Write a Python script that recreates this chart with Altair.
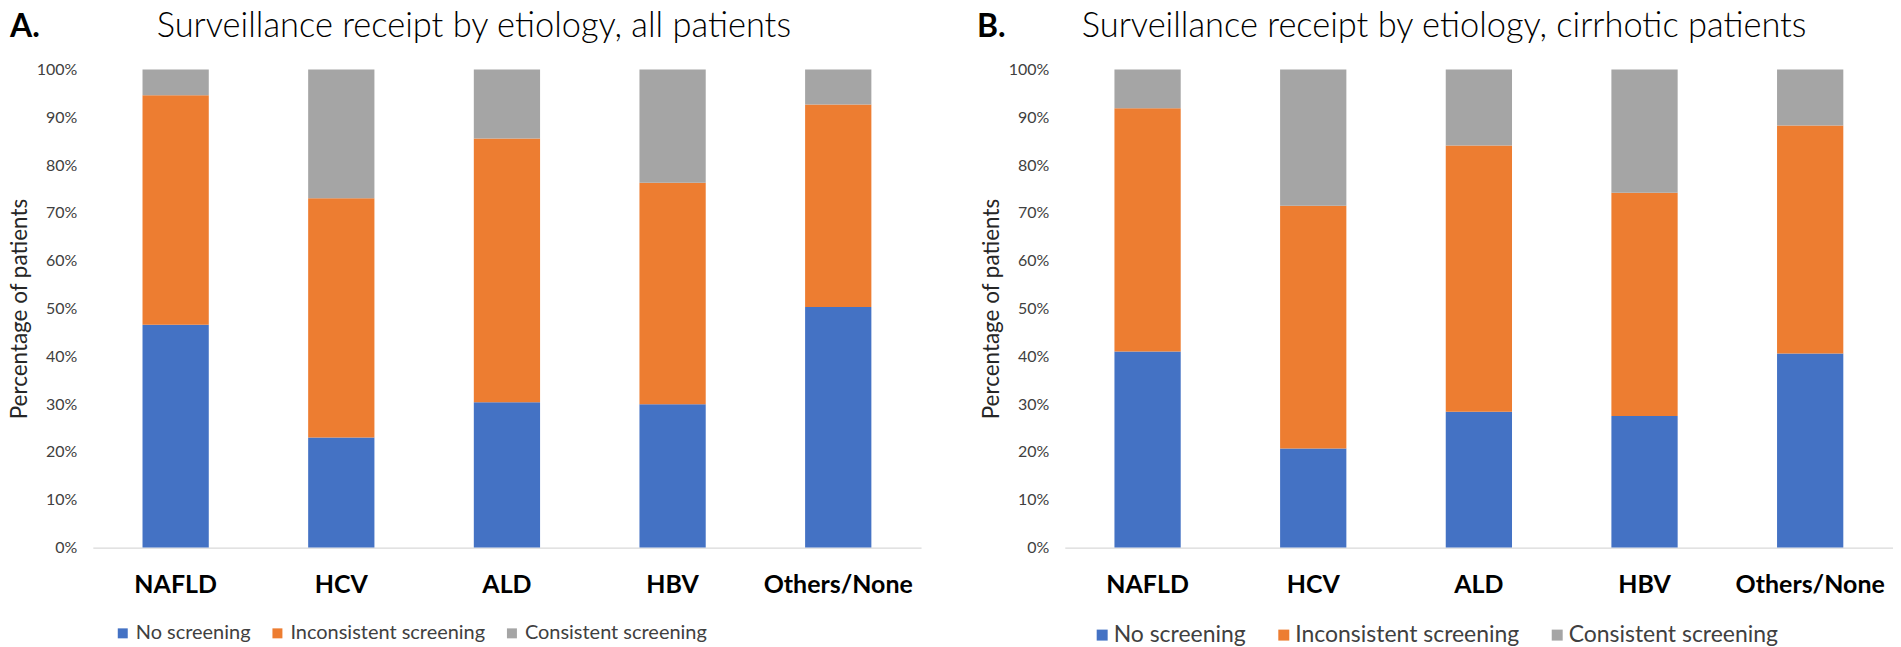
import altair as alt
import pandas as pd

categories = ["NAFLD", "HCV", "ALD", "HBV", "Others/None"]
statuses = ["No screening", "Inconsistent screening", "Consistent screening"]
colors = ["#4472C4", "#ED7D31", "#A5A5A5"]

# Panel A: all patients (percent of patients)
all_no = [46.6, 23.0, 30.4, 30.0, 50.3]
all_inconsistent = [48.0, 50.1, 55.2, 46.3, 42.4]
all_consistent = [5.4, 26.9, 14.4, 23.7, 7.3]

# Panel B: cirrhotic patients (percent of patients)
cir_no = [41.0, 20.7, 28.4, 27.5, 40.6]
cir_inconsistent = [50.9, 50.8, 55.7, 46.7, 47.7]
cir_consistent = [8.1, 28.5, 15.9, 25.8, 11.7]

title_a = "Surveillance receipt by etiology, all patients"
title_b = "Surveillance receipt by etiology, cirrhotic patients"
y_title = "Percentage of patients"
y_ticks = [0, 10, 20, 30, 40, 50, 60, 70, 80, 90, 100]

FONT = "Lato"
PLOT_H = 479


def long_table(no, inc, con):
    rows = []
    for series_idx, (name, vals) in enumerate(zip(statuses, [no, inc, con])):
        for cat, v in zip(categories, vals):
            rows.append({"etiology": cat, "status": name, "idx": series_idx, "pct": v})
    return pd.DataFrame(rows)


def panel(df, title, letter, letter_x, title_x, legend_x, legend_font, legend_sym, legend_gap, legend_off):
    bars = alt.Chart(df).mark_bar().encode(
        x=alt.X(
            "etiology:N",
            sort=categories,
            scale=alt.Scale(paddingInner=0.6, paddingOuter=0.3),
            axis=alt.Axis(
                title=None,
                labelAngle=0,
                labelFont=FONT,
                labelFontWeight="bold",
                labelFontSize=25,
                labelColor="#000000",
                labelPadding=25,
                ticks=False,
                domainColor="#d9d9d9",
                domainWidth=1.3,
                grid=False,
            ),
        ),
        y=alt.Y(
            "pct:Q",
            stack="zero",
            scale=alt.Scale(domain=[0, 100], nice=False),
            axis=alt.Axis(
                title=y_title,
                titleFont=FONT,
                titleFontSize=22.5,
                titleFontWeight="normal",
                titleColor="#262626",
                titlePadding=5,
                values=y_ticks,
                labelExpr="datum.value + '%'",
                labelFont=FONT,
                labelFontSize=16,
                labelColor="#404040",
                labelPadding=16,
                ticks=False,
                domain=False,
                grid=False,
            ),
        ),
        color=alt.Color(
            "status:N",
            scale=alt.Scale(domain=statuses, range=colors),
            legend=alt.Legend(
                orient="none",
                legendX=legend_x,
                legendY=PLOT_H + 76,
                direction="horizontal",
                title=None,
                symbolType="square",
                symbolSize=legend_sym,
                symbolStrokeWidth=0,
                labelFont=FONT,
                labelFontSize=legend_font,
                labelColor="#404040",
                labelOffset=legend_off,
                labelLimit=0,
                columnPadding=legend_gap,
            ),
        ),
        order=alt.Order("idx:Q", sort="ascending"),
    )
    head = pd.DataFrame({"t": [letter, title], "kind": ["letter", "title"]})
    letter_mark = alt.Chart(head).transform_filter(alt.datum.kind == "letter").mark_text(
        font=FONT, fontSize=32, fontWeight="bold", align="left", baseline="alphabetic", color="#000000"
    ).encode(text="t:N", x=alt.value(letter_x), y=alt.value(-33))
    title_mark = alt.Chart(head).transform_filter(alt.datum.kind == "title").mark_text(
        font=FONT, fontSize=34.5, fontWeight=300, align="left", baseline="alphabetic", color="#000000"
    ).encode(text="t:N", x=alt.value(title_x), y=alt.value(-33))
    return alt.layer(bars, letter_mark, title_mark).properties(width=830, height=PLOT_H)


left = panel(long_table(all_no, all_inconsistent, all_consistent), title_a, "A.", -83, 64, 20, 20, 100, 16, 3)
right = panel(long_table(cir_no, cir_inconsistent, cir_consistent), title_b, "B.", -88, 17, 26, 23, 121, 26, 0)

chart = (
    alt.hconcat(left, right, spacing=56)
    .resolve_scale(color="independent")
    .resolve_legend(color="independent")
    .properties(padding={"left": 0, "top": 0, "right": 0, "bottom": 0})
    .configure(background="white")
    .configure_view(stroke=None)
)

chart.save("out.html", embed_options={"renderer": "svg", "actions": False})
